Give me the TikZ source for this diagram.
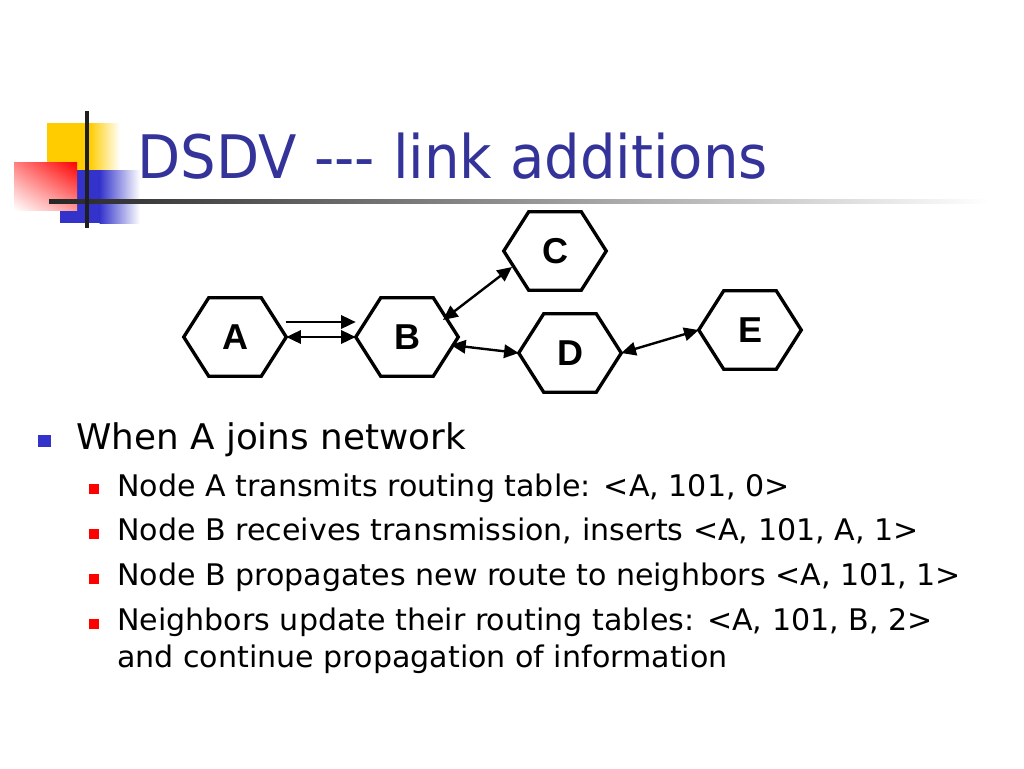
\documentclass[tikz,border=0pt]{standalone}
\usepackage{fontspec}
\setmainfont{DejaVu Sans}
\newfontfamily\bodyfont[FakeStretch=1.012]{DejaVu Sans}
\newfontfamily\titlefont[FakeStretch=0.935,Ligatures=TeXOff]{DejaVu Sans}
\newfontfamily\hexfont{Liberation Sans}
\usetikzlibrary{arrows.meta,shadings}
\definecolor{titleblue}{RGB}{51,51,153}
\definecolor{bulletblue}{RGB}{51,51,204}
\definecolor{logoyellow}{RGB}{255,204,0}
\definecolor{logoblue}{RGB}{51,51,204}
\newcommand\hexdraw[1]{\draw[hexline] (#1.west) -- ([xshift=18.75pt]#1.north west) -- ([xshift=-18.75pt]#1.north east) -- (#1.east) -- ([xshift=-18.75pt]#1.south east) -- ([xshift=18.75pt]#1.south west) -- cycle;}
\begin{document}
\begin{tikzpicture}[x=0.75pt,y=-0.75pt,
 hexbox/.style={rectangle, minimum width=76.5pt, minimum height=58.5pt, inner sep=0pt, font=\hexfont\bfseries\fontsize{27}{27}\selectfont},
 hexline/.style={line width=2.5pt, line join=miter},
 tip/.tip={Triangle[length=11pt,width=10pt]},
 link/.style={line width=1.8pt, -tip},
 dlink/.style={line width=1.8pt, tip-tip},
 titletext/.style={anchor=base west, inner sep=0pt, text=titleblue, font=\titlefont\fontsize{45}{45}\selectfont},
 lvlone/.style={anchor=base west, inner sep=0pt, font=\bodyfont\fontsize{26.5}{26.5}\selectfont},
 lvltwo/.style={anchor=base west, inner sep=0pt, font=\bodyfont\fontsize{22.3}{22.3}\selectfont},
 bulletone/.style={fill=bulletblue},
 bullettwo/.style={fill=red},
]
\useasboundingbox (0,0) rectangle (1024,768);
\fill[white] (0,0) rectangle (1024,768);

% logo
\fill[logoyellow] (47,123) rectangle (90,170);
\shade[left color=logoyellow, right color=white] (89.5,123) rectangle (120,170);
\fill[logoblue] (60,170) rectangle (100,223);
\shade[left color=logoblue, right color=white] (99.5,170) rectangle (140,223);
\shade[upper left=red!50, upper right=red, lower left=white, lower right=red!40] (14,162) rectangle (77,210);
\shade[left color=black!85, right color=white] (49,199) rectangle (990,203);
\fill[black!88] (85,111) rectangle (89,228);

% title
\node[titletext] (title) at (137,178) {DSDV --- link additions};

% network
\node[hexbox] (A) at (235,337) {A};
\node[hexbox] (B) at (407,337) {B};
\node[hexbox] (C) at (555,251) {C};
\node[hexbox] (D) at (570,353) {D};
\node[hexbox] (E) at (750,330) {E};
\hexdraw{A}\hexdraw{B}\hexdraw{C}\hexdraw{D}\hexdraw{E}

\draw[link] ([yshift=11.25pt]A.east) -- ([yshift=11.25pt]B.west);
\draw[dlink] (A.east) -- (B.west);
\draw[dlink] ([xshift=27pt,yshift=12.75pt]B.center) -- ([xshift=-32.25pt,yshift=-12pt]C.center);
\draw[dlink] ([xshift=33pt,yshift=-6pt]B.center) -- (D.west);
\draw[dlink] (D.east) -- (E.west);

% bullets
\fill[bulletone] (38,435) rectangle (51,447);
\node[lvlone] (l1) at (76,449) {When A joins network};

\fill[bullettwo] (89,484) rectangle (99,494);
\node[lvltwo] (s1) at (117,496) {Node A transmits routing table: <A, 101, 0>};
\fill[bullettwo] (89,529) rectangle (99,539);
\node[lvltwo] (s2) at (117,540) {Node B receives transmission, inserts <A, 101, A, 1>};
\fill[bullettwo] (89,574) rectangle (99,584);
\node[lvltwo] (s3) at (117,585) {Node B propagates new route to neighbors <A, 101, 1>};
\fill[bullettwo] (89,619) rectangle (99,629);
\node[lvltwo] (s4) at (117,630) {Neighbors update their routing tables: <A, 101, B, 2>};
\node[lvltwo] (s5) at (117,667) {and continue propagation of information};
\end{tikzpicture}
\end{document}
